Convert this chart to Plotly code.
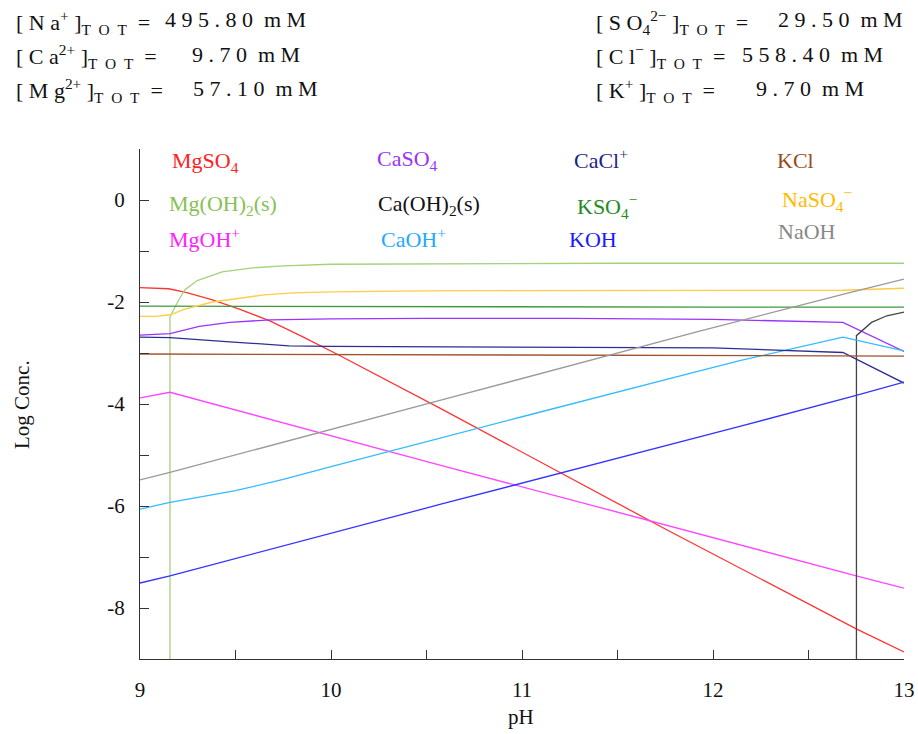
import plotly.graph_objects as go

# ---------------- data ----------------
ph_mgso4 = [9.0, 9.15, 9.24, 9.38, 9.52, 9.68, 9.85, 10.03, 10.57, 11.41, 11.75, 12.75, 13.0]
lc_mgso4 = [-1.72, -1.74, -1.81, -1.96, -2.14, -2.37, -2.68, -3.02, -4.08, -5.76, -6.45, -8.41, -8.86]

ph_mgoh2s = [9.157, 9.157, 9.2, 9.235, 9.3, 9.43, 9.59, 9.75, 10.0, 10.5, 11.5, 13.0]
lc_mgoh2s = [-10.0, -2.29, -1.98, -1.76, -1.58, -1.41, -1.33, -1.29, -1.26, -1.25, -1.24, -1.24]

ph_mgoh = [9.0, 9.157, 10.57, 11.41, 12.75, 13.0]
lc_mgoh = [-3.88, -3.77, -5.20, -6.03, -7.37, -7.61]

ph_caso4 = [9.0, 9.157, 9.31, 9.47, 9.68, 10.0, 10.5, 11.25, 12.0, 12.68, 13.0]
lc_caso4 = [-2.65, -2.62, -2.48, -2.40, -2.35, -2.33, -2.32, -2.32, -2.34, -2.40, -2.97]

ph_caoh2s = [12.751, 12.751, 12.83, 12.91, 13.0]
lc_caoh2s = [-10.0, -2.66, -2.40, -2.27, -2.20]

ph_caoh = [9.0, 9.157, 9.5, 9.75, 10.0, 10.57, 11.0, 11.93, 12.14, 12.68, 13.0]
lc_caoh = [-6.06, -5.93, -5.70, -5.48, -5.23, -4.67, -4.25, -3.35, -3.15, -2.69, -2.96]

ph_cacl = [9.0, 9.157, 9.47, 9.78, 10.0, 10.5, 11.5, 12.0, 12.68, 13.0]
lc_cacl = [-2.69, -2.70, -2.78, -2.86, -2.87, -2.88, -2.89, -2.90, -2.99, -3.59]

ph_kso4 = [9.0, 10.0, 11.0, 12.0, 13.0]
lc_kso4 = [-2.08, -2.09, -2.09, -2.10, -2.10]

ph_koh = [9.0, 9.157, 10.57, 12.14, 12.75, 13.0]
lc_koh = [-7.51, -7.37, -5.97, -4.44, -3.83, -3.57]

ph_kcl = [9.0, 11.0, 13.0]
lc_kcl = [-3.02, -3.04, -3.06]

ph_naso4 = [9.0, 9.08, 9.157, 9.235, 9.38, 9.52, 9.65, 9.8, 10.0, 10.5, 11.5, 12.68, 13.0]
lc_naso4 = [-2.28, -2.28, -2.25, -2.14, -2.00, -1.93, -1.86, -1.82, -1.80, -1.78, -1.78, -1.77, -1.73]

ph_naoh = [9.0, 9.157, 10.57, 11.93, 12.7, 13.0]
lc_naoh = [-5.49, -5.34, -3.93, -2.57, -1.83, -1.55]

x_ticks = [9, 9.5, 10, 10.5, 11, 11.5, 12, 12.5, 13]
x_ticktext = ["9", "", "10", "", "11", "", "12", "", "13"]
y_ticks = [1, 0, -1, -2, -3, -4, -5, -6, -7, -8, -9]
y_ticktext = ["", "0", "", "-2", "", "-4", "", "-6", "", "-8", ""]

totals_left = [("Na", "+", "495.80"), ("Ca", "2+", "9.70"), ("Mg", "2+", "57.10")]
totals_right = [("SO4", "2\u2212", "29.50"), ("Cl", "\u2212", "558.40"), ("K", "+", "9.70")]

# ---------------- styling ----------------
series = [
    ("MgSO4", ph_mgso4, lc_mgso4, "#ff3333"),
    ("Mg(OH)2(s)", ph_mgoh2s, lc_mgoh2s, "#a3d27a"),
    ("MgOH+", ph_mgoh, lc_mgoh, "#ff44ff"),
    ("CaSO4", ph_caso4, lc_caso4, "#9933ff"),
    ("Ca(OH)2(s)", ph_caoh2s, lc_caoh2s, "#444444"),
    ("CaOH+", ph_caoh, lc_caoh, "#33bbff"),
    ("CaCl+", ph_cacl, lc_cacl, "#2e2e90"),
    ("KSO4-", ph_kso4, lc_kso4, "#3c9a3c"),
    ("KOH", ph_koh, lc_koh, "#3333ff"),
    ("KCl", ph_kcl, lc_kcl, "#a0522d"),
    ("NaSO4-", ph_naso4, lc_naso4, "#ffcc44"),
    ("NaOH", ph_naoh, lc_naoh, "#999999"),
]

FONT = "Liberation Serif"
fig = go.Figure()
for name, xs, ys, col in series:
    fig.add_trace(go.Scatter(x=xs, y=ys, mode="lines", name=name,
                             line=dict(color=col, width=1.3), showlegend=False,
                             hoverinfo="x+y+name"))

L, R, T, B = 140, 14, 149, 75
W, H = 918, 734
PW, PH = W - L - R, H - T - B

def px(X):
    return (X - L) / PW

def py(Y):
    return (H - B - Y) / PH

labels = [
    ("MgSO<sub>4</sub>", 170, 162, "#ff2222"),
    ("CaSO<sub>4</sub>", 375, 160, "#9933ff"),
    ("CaCl<sup>+</sup>", 572, 159, "#1f1f85"),
    ("KCl", 775, 160, "#994c1a"),
    ("Mg(OH)<sub>2</sub>(s)", 167, 205, "#88c055"),
    ("Ca(OH)<sub>2</sub>(s)", 376, 205, "#111111"),
    ("KSO<sub>4</sub><sup>\u2212</sup>", 575, 206, "#228b22"),
    ("NaSO<sub>4</sub><sup>\u2212</sup>", 780, 199, "#ffbb00"),
    ("MgOH<sup>+</sup>", 167, 238, "#ff22ff"),
    ("CaOH<sup>+</sup>", 379, 238, "#22aaff"),
    ("KOH", 567, 239, "#1a1aff"),
    ("NaOH", 776, 231, "#888888"),
]
annos = []
for txt, X, Y, col in labels:
    annos.append(dict(text=txt, x=px(X), y=py(Y), xref="paper", yref="paper",
                      xanchor="left", yanchor="middle", showarrow=False,
                      font=dict(family=FONT, size=22, color=col)))

TS = "\u2005"
def sp(s, gap=TS):
    return gap.join(s)

def total_label(ion, charge):
    if ion == "SO4":
        ion_html = sp("[SO") + "<sub>4</sub>"
    else:
        ion_html = sp("[" + ion)
    return (ion_html + "<sup>" + charge + "</sup>" + TS + "]" + "<sub>" + sp("TOT", "\u2002")
            + "</sub>" + "\u2002=")

def total_value(val):
    return sp(val) + "\u00a0\u00a0" + sp("mM")

line_y = [22, 57, 91]
val_left_end = [308, 302, 320]
val_right_end = [905, 885, 866]
for col_items, label_x, val_xs in ((totals_left, 14, val_left_end), (totals_right, 594, val_right_end)):
    for i, (ion, ch, val) in enumerate(col_items):
        annos.append(dict(text=total_label(ion, ch), x=px(label_x), y=py(line_y[i]),
                          xref="paper", yref="paper", xanchor="left", yanchor="middle",
                          showarrow=False, font=dict(family=FONT, size=22, color="#111111")))
        annos.append(dict(text=total_value(val), x=px(val_xs[i]), y=py(line_y[i] - 3),
                          xref="paper", yref="paper", xanchor="right", yanchor="middle",
                          showarrow=False, font=dict(family=FONT, size=22, color="#111111")))

annos.append(dict(text="pH", x=px(521), y=py(717), xref="paper", yref="paper",
                  xanchor="center", yanchor="middle", showarrow=False,
                  font=dict(family=FONT, size=21, color="#111111")))
annos.append(dict(text="Log Conc.", x=px(22), y=py(405), xref="paper", yref="paper",
                  xanchor="center", yanchor="middle", showarrow=False, textangle=-90,
                  font=dict(family=FONT, size=21, color="#111111")))

axis_common = dict(showgrid=False, zeroline=False, showline=True, linecolor="#333333",
                   linewidth=1.3, ticks="inside", ticklen=9, tickwidth=1.2,
                   tickcolor="#333333", mirror=False, automargin=False,
                   tickfont=dict(family=FONT, size=21, color="#111111"))

fig.update_layout(
    width=W, height=H, margin=dict(l=L, r=R, t=T, b=B, pad=0, autoexpand=False),
    paper_bgcolor="white", plot_bgcolor="white",
    font=dict(family=FONT),
    xaxis=dict(range=[9, 13], tickmode="array", tickvals=x_ticks, ticktext=x_ticktext,
               ticklabelstandoff=12, **axis_common),
    yaxis=dict(range=[-9, 1], tickmode="array", tickvals=y_ticks, ticktext=y_ticktext,
               ticklabelstandoff=10, **axis_common),
    annotations=annos,
)
fig.write_html("out.html")
